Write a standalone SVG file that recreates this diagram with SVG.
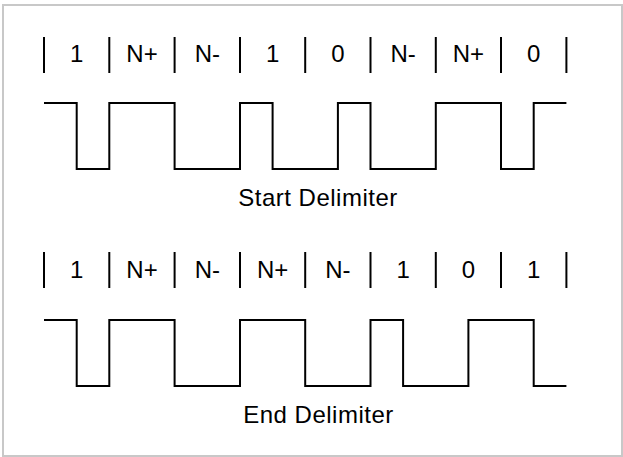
<svg xmlns="http://www.w3.org/2000/svg" width="623" height="457" viewBox="0 0 623 457">
<style>
.bg{fill:#fff;stroke:#c8c8c8;stroke-width:2}
.wave{fill:none;stroke:#000;stroke-width:2;stroke-linejoin:miter}
.sep{stroke:#000;stroke-width:2}
.lbl{font-family:"Liberation Sans",Arial,sans-serif;font-size:24px;fill:#000;text-anchor:middle}
.title{letter-spacing:0.5px}
</style>
<rect class="bg" x="3" y="5" width="619" height="451"/>
<g id="start-delimiter">
<g id="start-separators">
<line class="sep" x1="44" y1="37" x2="44" y2="73"/>
<line class="sep" x1="109.3" y1="37" x2="109.3" y2="73"/>
<line class="sep" x1="174.6" y1="37" x2="174.6" y2="73"/>
<line class="sep" x1="240" y1="37" x2="240" y2="73"/>
<line class="sep" x1="305.2" y1="37" x2="305.2" y2="73"/>
<line class="sep" x1="370.5" y1="37" x2="370.5" y2="73"/>
<line class="sep" x1="435.8" y1="37" x2="435.8" y2="73"/>
<line class="sep" x1="501" y1="37" x2="501" y2="73"/>
<line class="sep" x1="566.4" y1="37" x2="566.4" y2="73"/>
</g>
<g id="start-labels">
<text class="lbl" x="76.7" y="62">1</text>
<text class="lbl" x="142" y="62">N+</text>
<text class="lbl" x="207.3" y="62">N-</text>
<text class="lbl" x="272.6" y="62">1</text>
<text class="lbl" x="337.9" y="62">0</text>
<text class="lbl" x="403.1" y="62">N-</text>
<text class="lbl" x="468.4" y="62">N+</text>
<text class="lbl" x="533.7" y="62">0</text>
</g>
<path id="start-wave" class="wave" d="M44,103 H76.7 V169 H109.3 V103 H174.6 V169 H240 V103 H272.6 V169 H337.9 V103 H370.5 V169 H435.8 V103 H501 V169 H533.7 V103 H566.4"/>
<text id="start-title" class="lbl title" x="318" y="206">Start Delimiter</text>
</g>
<g id="end-delimiter">
<g id="end-separators">
<line class="sep" x1="44" y1="252" x2="44" y2="288"/>
<line class="sep" x1="109.3" y1="252" x2="109.3" y2="288"/>
<line class="sep" x1="174.6" y1="252" x2="174.6" y2="288"/>
<line class="sep" x1="240" y1="252" x2="240" y2="288"/>
<line class="sep" x1="305.2" y1="252" x2="305.2" y2="288"/>
<line class="sep" x1="370.5" y1="252" x2="370.5" y2="288"/>
<line class="sep" x1="435.8" y1="252" x2="435.8" y2="288"/>
<line class="sep" x1="501" y1="252" x2="501" y2="288"/>
<line class="sep" x1="566.4" y1="252" x2="566.4" y2="288"/>
</g>
<g id="end-labels">
<text class="lbl" x="76.7" y="278">1</text>
<text class="lbl" x="142" y="278">N+</text>
<text class="lbl" x="207.3" y="278">N-</text>
<text class="lbl" x="272.6" y="278">N+</text>
<text class="lbl" x="337.9" y="278">N-</text>
<text class="lbl" x="403.1" y="278">1</text>
<text class="lbl" x="468.4" y="278">0</text>
<text class="lbl" x="533.7" y="278">1</text>
</g>
<path id="end-wave" class="wave" d="M44,320 H76.7 V386 H109.3 V320 H174.6 V386 H240 V320 H305.2 V386 H370.5 V320 H403.1 V386 H468.4 V320 H533.7 V386 H566.4"/>
<text id="end-title" class="lbl title" x="318.5" y="423">End Delimiter</text>
</g>
</svg>
